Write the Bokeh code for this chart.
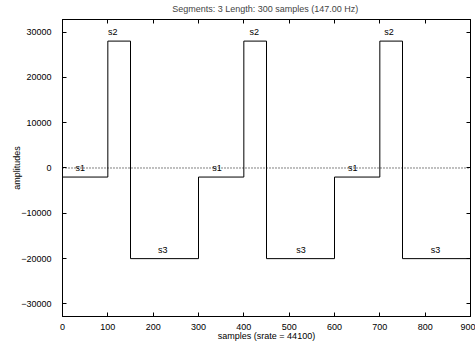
from bokeh.plotting import figure
from bokeh.models import (Range1d, SingleIntervalTicker, LinearAxis, Span, ColumnDataSource,
                          CustomJSTickFormatter)
from bokeh.embed import file_html
from bokeh.resources import INLINE
from bokeh.core.properties import value

title_text = "Segments: 3  Length: 300 samples (147.00 Hz)"
x_label = "samples (srate = 44100)"
y_label = "amplitudes"

segment_names = ["s1", "s2", "s3"]
segment_lengths = [100, 50, 150]
segment_amplitudes = [-2000, 28000, -20000]
n_periods = 3

label_names = ["s1", "s2", "s3", "s1", "s2", "s3", "s1", "s2", "s3"]
label_x = [39, 111, 221, 341, 423, 526, 640, 720, 823]
label_y = [0, 30000, -18000, 0, 30000, -18000, 0, 30000, -18000]

x_min, x_max = 0, 900
y_min, y_max = -32768, 32767

FONT = "Liberation Sans"
FS = "9px"

# build the step waveform from the segment table
xs, ys = [], []
start = 0
for k in range(n_periods):
    for length, amp in zip(segment_lengths, segment_amplitudes):
        xs += [start, start + length]
        ys += [amp, amp]
        start += length

p = figure(width=475, height=343, output_backend="svg", toolbar_location=None,
           x_range=Range1d(x_min, x_max), y_range=Range1d(y_min, y_max),
           x_axis_location=None, y_axis_location=None,
           min_border_left=62, min_border_right=5, min_border_top=18, min_border_bottom=27)
p.background_fill_color = "white"
p.border_fill_color = "white"
p.outline_line_color = "black"
p.grid.visible = False

p.title.text = title_text
p.title.align = "center"
p.title.text_font = FONT
p.title.text_font_size = FS
p.title.text_font_style = "normal"
p.title.standoff = 3
p.title.offset = 0


def make_axis(ticker, show_labels):
    ax = LinearAxis(ticker=ticker)
    ax.major_tick_in = 4
    ax.major_tick_out = 0
    ax.minor_tick_line_color = None
    ax.axis_line_color = "black"
    ax.major_tick_line_color = "black"
    ax.major_label_text_font = FONT
    ax.major_label_text_color = "black"
    ax.major_label_text_font_size = FS
    ax.axis_label_text_font = FONT
    ax.axis_label_text_font_size = FS
    ax.axis_label_text_font_style = "normal"
    ax.axis_label_text_color = "black"
    if not show_labels:
        ax.formatter = CustomJSTickFormatter(code="return '';")
        ax.major_label_standoff = 0
    return ax


xb = make_axis(SingleIntervalTicker(interval=100), True)
xb.axis_label = x_label
xb.major_label_standoff = 3
xb.axis_label_standoff = -2
p.add_layout(xb, "below")

yl = make_axis(SingleIntervalTicker(interval=10000), True)
yl.axis_label = y_label
yl.major_label_standoff = 7
yl.axis_label_standoff = -4
p.add_layout(yl, "left")

xt = make_axis(SingleIntervalTicker(interval=100), False)
p.add_layout(xt, "above")
yr = make_axis(SingleIntervalTicker(interval=10000), False)
p.add_layout(yr, "right")

p.add_layout(Span(location=0, dimension="width", line_color="black",
                  line_width=1, line_dash="1 2"))

p.line(xs, ys, line_color="black", line_width=1)

src = ColumnDataSource(dict(x=label_x, y=label_y, t=label_names))
p.text(x="x", y="y", text="t", source=src, text_align="center", text_baseline="middle",
       text_font=value(FONT), text_font_size=FS, text_color="black")

open("out.html", "w").write(file_html(p, INLINE))
